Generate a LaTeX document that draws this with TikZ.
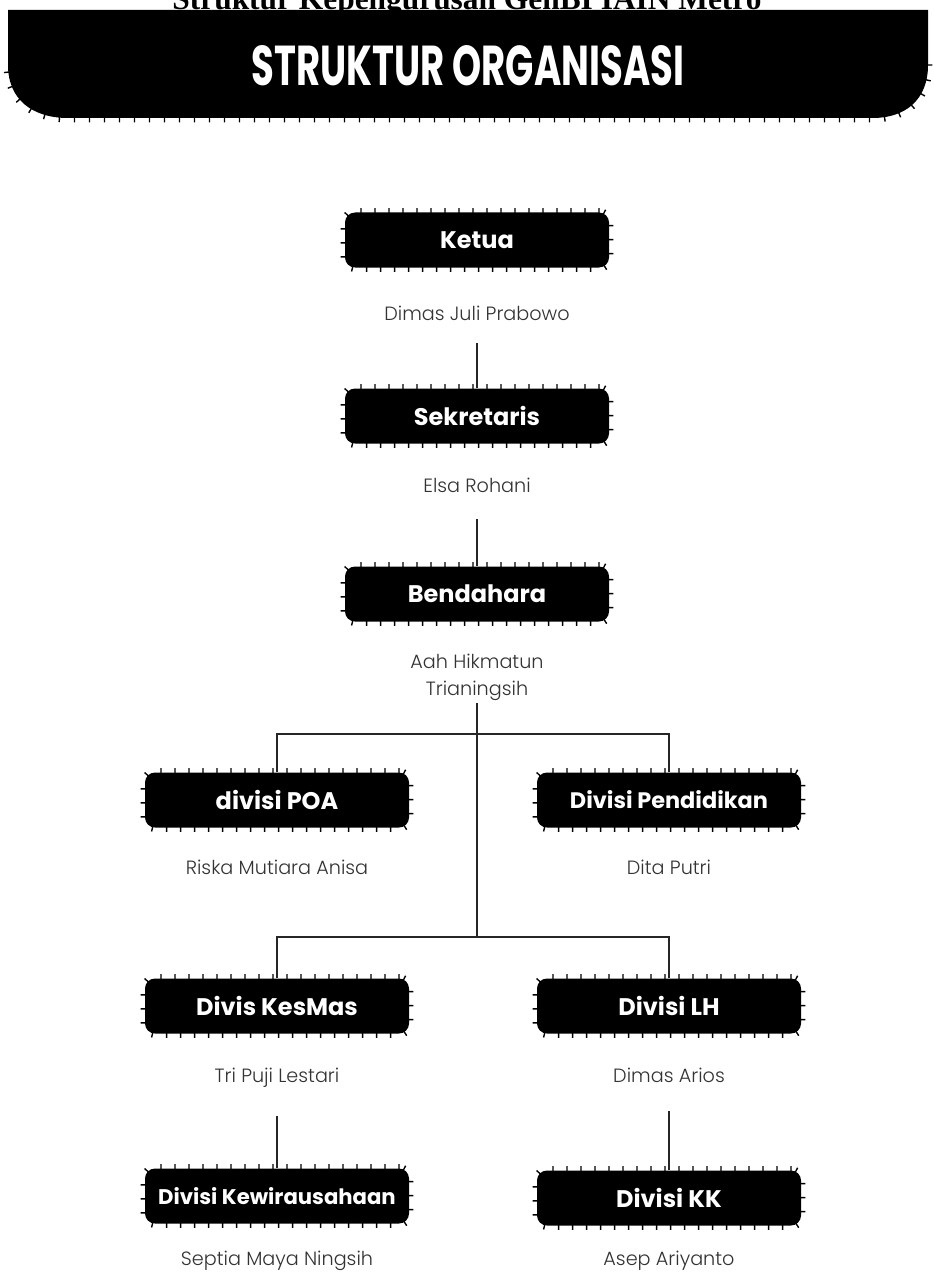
\documentclass[tikz,border=0pt]{standalone}
\usepackage{fontspec}
\newfontfamily\boxfont{Poppins Bold}
\newfontfamily\namefont{Poppins Light}
\newfontfamily\headfont{Liberation Serif}
\usepackage{tikz}
\usetikzlibrary{positioning,calc,decorations.pathreplacing}
\tikzset{
  jabatan/.style={fill=black, rounded corners=5pt, minimum width=132pt, minimum height=27.5pt,
    inner sep=0pt, text=white, font=\boxfont\fontsize{12}{14}\selectfont,
    postaction={draw=black, line width=0.7pt, decorate,
      decoration={ticks, segment length=7pt, amplitude=2.2pt}}},
  nama/.style={font=\namefont\fontsize{9.6}{13.5}\selectfont, text=black!80, inner sep=0pt, align=center},
  garis/.style={line width=1pt, black!85},
  gerigi/.style={line width=0.7pt, decorate, decoration={ticks, segment length=7.5pt, amplitude=2.2pt}}
}

\begin{document}
\begin{tikzpicture}[x=0.5pt, y=-0.5pt]
  \useasboundingbox (0,0) rectangle (933,1273);
  \clip (0,0) rectangle (933,1273);
  \fill[white] (0,0) rectangle (933,1273);
  \node[anchor=base, inner sep=0pt, font=\headfont\bfseries\fontsize{15.7}{18}\selectfont] (kepala) at (467,10) {Struktur Kepengurusan GenBI IAIN Metro};
  \fill (8,10) -- (928,10) -- (928,65) .. controls (928,100) and (905,118) .. (873,118)
     -- (68,118) .. controls (33,118) and (8,100) .. (8,65) -- cycle;
  \draw[gerigi] (928,65) .. controls (928,100) and (905,118) .. (873,118)
     -- (68,118) .. controls (33,118) and (8,100) .. (8,65);
  \node[text=white, font=\boxfont, inner sep=0pt] (judul) at (468,66) {\resizebox{216pt}{20pt}{STRUKTUR ORGANISASI}};

  \node[jabatan] (bKetua) at (477,240) {Ketua};
  \node[nama, below=19pt of bKetua] (nKetua) {Dimas Juli Prabowo};
  \node[jabatan] (bSekretaris) at (477,416) {Sekretaris};
  \node[nama, below=17pt of bSekretaris] (nSekretaris) {Elsa Rohani};
  \node[jabatan] (bBendahara) at (477,594) {Bendahara};
  \node[nama, below=16pt of bBendahara] (nBendahara) {Aah Hikmatun\\Trianingsih};

  \foreach \id/\x/\y/\jab/\org/\jarak in {
      POA/277/800/divisi POA/Riska Mutiara Anisa/16pt,
      Pendidikan/669/800/{{\fontsize{11.2}{13}\selectfont Divisi Pendidikan}}/Dita Putri/16pt,
      KesMas/277/1006/Divis KesMas/Tri Puji Lestari/17pt,
      LH/669/1006/Divisi LH/Dimas Arios/17pt,
      Kewirausahaan/277/1196/{{\fontsize{10.6}{13}\selectfont Divisi Kewirausahaan}}/Septia Maya Ningsih/13.5pt,
      KK/669/1198/Divisi KK/Asep Ariyanto/12.5pt}
  {
    \node[jabatan] (b\id) at (\x,\y) {\jab};
    \node[nama, below=\jarak of b\id] (n\id) {\org};
  }

  \coordinate (cab1) at (477,734);
  \coordinate (cab2) at (477,937);
  \draw[garis] ([yshift=-11pt]nKetua.south) -- (bSekretaris.north);
  \draw[garis] ([yshift=-13pt]nSekretaris.south) -- (bBendahara.north);
  \draw[garis] ([yshift=-1pt]nBendahara.south) -- (cab2);
  \draw[garis] (bPOA.north) |- (cab1) -| (bPendidikan.north);
  \draw[garis] (bKesMas.north) |- (cab2) -| (bLH.north);
  \draw[garis] ([yshift=-14pt]nKesMas.south) -- (bKewirausahaan.north);
  \draw[garis] ([yshift=-14pt]nLH.south) -- (bKK.north);
\end{tikzpicture}
\end{document}
